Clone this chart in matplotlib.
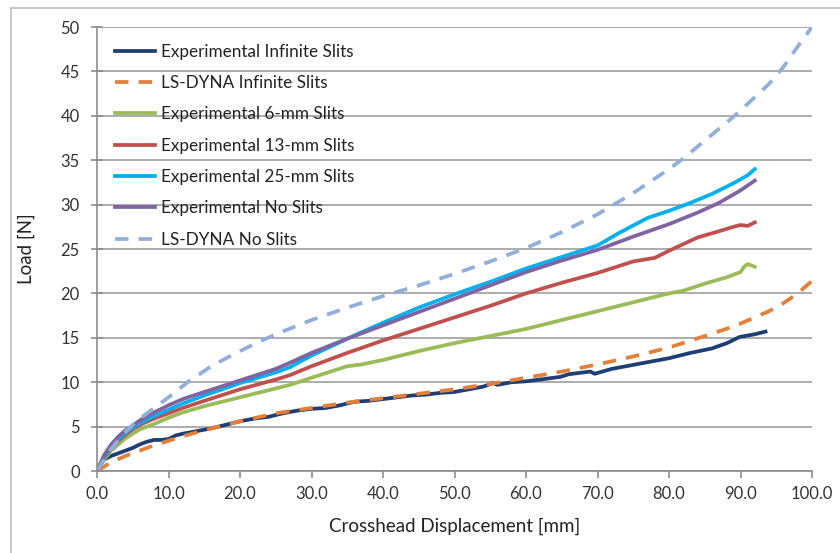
import matplotlib
matplotlib.use("Agg")
import matplotlib.pyplot as plt
from matplotlib.lines import Line2D

plt.rcParams["font.family"] = ["Lato", "DejaVu Sans"]

# Experimental Infinite Slits
inf_exp_x = [0, 0.5, 1, 2, 3, 4, 5, 6, 7, 8, 9, 10, 11, 12, 14, 16, 18, 20, 22, 24, 26, 28,
             30, 32, 34, 36, 38, 40, 42, 44, 46, 48, 50, 52, 54, 55.4, 56, 58, 60, 62, 64.8,
             66, 68, 69, 69.6, 72, 74, 77.3, 80, 83, 86, 88.1, 89.9, 92, 93.5]
inf_exp_y = [0, 0.8, 1.3, 1.7, 2.0, 2.3, 2.6, 3.0, 3.3, 3.5, 3.5, 3.6, 4.0, 4.2, 4.5, 4.8, 5.2,
             5.6, 5.9, 6.1, 6.5, 6.8, 7.0, 7.1, 7.4, 7.8, 7.9, 8.1, 8.3, 8.5, 8.6, 8.8, 8.9,
             9.2, 9.5, 9.9, 9.7, 10.0, 10.1, 10.3, 10.6, 10.9, 11.1, 11.2, 10.95, 11.5, 11.8,
             12.3, 12.7, 13.3, 13.8, 14.4, 15.1, 15.4, 15.7]

# LS-DYNA Infinite Slits
inf_sim_x = [0, 1, 2, 4, 6, 8, 10, 12, 15, 18, 20, 25, 30, 35, 40, 45, 50, 55, 60, 65, 70,
             75, 80, 85, 88, 90, 92, 94, 96, 98, 100]
inf_sim_y = [0, 0.5, 1.0, 1.7, 2.3, 2.9, 3.4, 3.9, 4.6, 5.2, 5.6, 6.5, 7.1, 7.7, 8.2, 8.7,
             9.2, 9.8, 10.5, 11.2, 12.0, 12.9, 13.9, 15.2, 16.0, 16.6, 17.3, 18.0, 18.9,
             20.0, 21.4]

# Experimental 6-mm Slits
s6_x = [0, 1, 2, 3, 4, 5, 6, 8, 10, 12, 15, 20, 25, 27, 30, 35, 37, 40, 45, 50, 55, 60, 65,
        70, 75, 80, 82, 85, 88, 90, 90.5, 91, 92]
s6_y = [0, 1.3, 2.3, 3.0, 3.7, 4.2, 4.7, 5.3, 6.0, 6.6, 7.3, 8.3, 9.3, 9.7, 10.5, 11.8, 12.0,
        12.5, 13.5, 14.4, 15.2, 16.0, 17.0, 18.0, 19.0, 20.0, 20.3, 21.1, 21.8, 22.4, 23.0,
        23.3, 23.0]

# Experimental 13-mm Slits
s13_x = [0, 1, 2, 3, 4, 5, 6, 8, 10, 12, 15, 20, 25, 27, 30, 35, 40, 45, 50, 55, 60, 65, 70,
         75, 78, 80, 84, 87, 89, 90, 91, 92]
s13_y = [0, 1.5, 2.6, 3.4, 4.1, 4.7, 5.2, 5.9, 6.5, 7.1, 7.9, 9.2, 10.3, 10.8, 11.8, 13.3,
         14.7, 16.0, 17.3, 18.6, 20.0, 21.2, 22.3, 23.6, 24.0, 24.8, 26.3, 27.0, 27.5, 27.7,
         27.6, 28.0]

# Experimental 25-mm Slits
s25_x = [0, 1, 2, 3, 4, 5, 6, 8, 10, 12, 15, 20, 25, 27, 30, 35, 40, 45, 50, 55, 60, 65, 70,
         73, 77, 80, 83, 86, 89, 91, 92]
s25_y = [0, 1.6, 2.8, 3.6, 4.3, 4.9, 5.4, 6.2, 6.9, 7.6, 8.5, 9.9, 11.1, 11.7, 13.0, 14.9,
         16.7, 18.4, 19.9, 21.3, 22.8, 24.1, 25.4, 26.8, 28.5, 29.3, 30.2, 31.2, 32.4, 33.3,
         34.0]

# Experimental No Slits
ns_exp_x = [0, 1, 2, 3, 4, 5, 6, 8, 10, 12, 15, 20, 25, 27, 30, 35, 40, 45, 50, 55, 60, 65,
            70, 75, 80, 84, 87, 90, 92]
ns_exp_y = [0, 1.8, 3.0, 3.9, 4.6, 5.1, 5.7, 6.6, 7.4, 8.1, 8.9, 10.2, 11.5, 12.2, 13.3, 14.9,
            16.4, 17.9, 19.4, 20.9, 22.4, 23.7, 24.9, 26.4, 27.8, 29.1, 30.2, 31.6, 32.7]

# LS-DYNA No Slits
ns_sim_x = [0, 1, 2, 3, 4, 5, 6, 8, 10, 13, 16, 19, 22, 25, 30, 35, 40, 45, 50, 55, 60, 65,
            70, 75, 80, 82, 85, 88, 90, 92, 94, 96, 98, 100]
ns_sim_y = [0, 1.3, 2.5, 3.5, 4.4, 5.2, 5.9, 7.1, 8.3, 10.2, 11.8, 13.1, 14.3, 15.4, 17.0,
            18.4, 19.7, 20.9, 22.2, 23.6, 25.1, 26.9, 28.9, 31.3, 34.0, 35.2, 37.2, 39.2,
            40.6, 42.1, 43.6, 45.5, 47.8, 50.0]

x_ticks = [0, 10, 20, 30, 40, 50, 60, 70, 80, 90, 100]
y_ticks = [0, 5, 10, 15, 20, 25, 30, 35, 40, 45, 50]

fig = plt.figure(figsize=(8.4, 5.53), dpi=100)
ax = fig.add_axes([97 / 840, 1 - 471 / 553, 715 / 840, 444 / 553])

lw = 2.7
dash = (0, (3.6, 2.7))
ax.plot(inf_exp_x, inf_exp_y, color="#1F3E74", lw=lw, label="Experimental Infinite Slits")
ax.plot(inf_sim_x, inf_sim_y, color="#E47F3A", lw=lw, ls=dash, label="LS-DYNA Infinite Slits")
ax.plot(s6_x, s6_y, color="#9BBB59", lw=lw, label="Experimental 6-mm Slits")
ax.plot(s13_x, s13_y, color="#C0504D", lw=lw, label="Experimental 13-mm Slits")
ax.plot(s25_x, s25_y, color="#00B0F0", lw=lw, label="Experimental 25-mm Slits")
ax.plot(ns_exp_x, ns_exp_y, color="#8064A2", lw=lw, label="Experimental No Slits")
ax.plot(ns_sim_x, ns_sim_y, color="#92AEDB", lw=lw, ls=dash, label="LS-DYNA No Slits")

ax.set_xlim(0, 100)
ax.set_ylim(0, 50)
ax.set_xticks(x_ticks)
ax.set_xticklabels([f"{v:.1f}" for v in x_ticks])
ax.set_yticks(y_ticks)
ax.set_yticklabels([str(v) for v in y_ticks])

ax.grid(axis="y", color="#A6A6A6", lw=1.3)
ax.set_axisbelow(True)
for s in ["top", "right"]:
    ax.spines[s].set_visible(False)
for s in ["left", "bottom"]:
    ax.spines[s].set_color("#8C8C8C")
    ax.spines[s].set_linewidth(1.2)

ax.tick_params(axis="y", direction="inout", length=9, width=1.2, color="#8C8C8C",
               labelsize=12, labelcolor="#333333", pad=8)
ax.tick_params(axis="x", direction="out", length=5, width=1.2, color="#8C8C8C",
               labelsize=12, labelcolor="#333333", pad=6)

ax.set_xlabel("Crosshead Displacement [mm]", fontsize=13.5, color="#222222", labelpad=11)
ax.set_ylabel("Load [N]", fontsize=13.5, color="#222222", labelpad=18)

leg = ax.legend(loc="upper left", bbox_to_anchor=(0.013, 0.982), frameon=False,
                fontsize=12.3, handlelength=2.35, labelspacing=0.9, borderpad=0,
                handletextpad=0.35)
for t in leg.get_texts():
    t.set_color("#222222")

# thin outer frame of the chart area (top and left visible)
fig.add_artist(Line2D([11 / 840, 11 / 840], [0, 1 - 8 / 553], color="#BFBFBF", lw=1.2))
fig.add_artist(Line2D([11 / 840, 1], [1 - 8 / 553, 1 - 8 / 553], color="#BFBFBF", lw=1.2))

fig.savefig("out.png", dpi=100)
